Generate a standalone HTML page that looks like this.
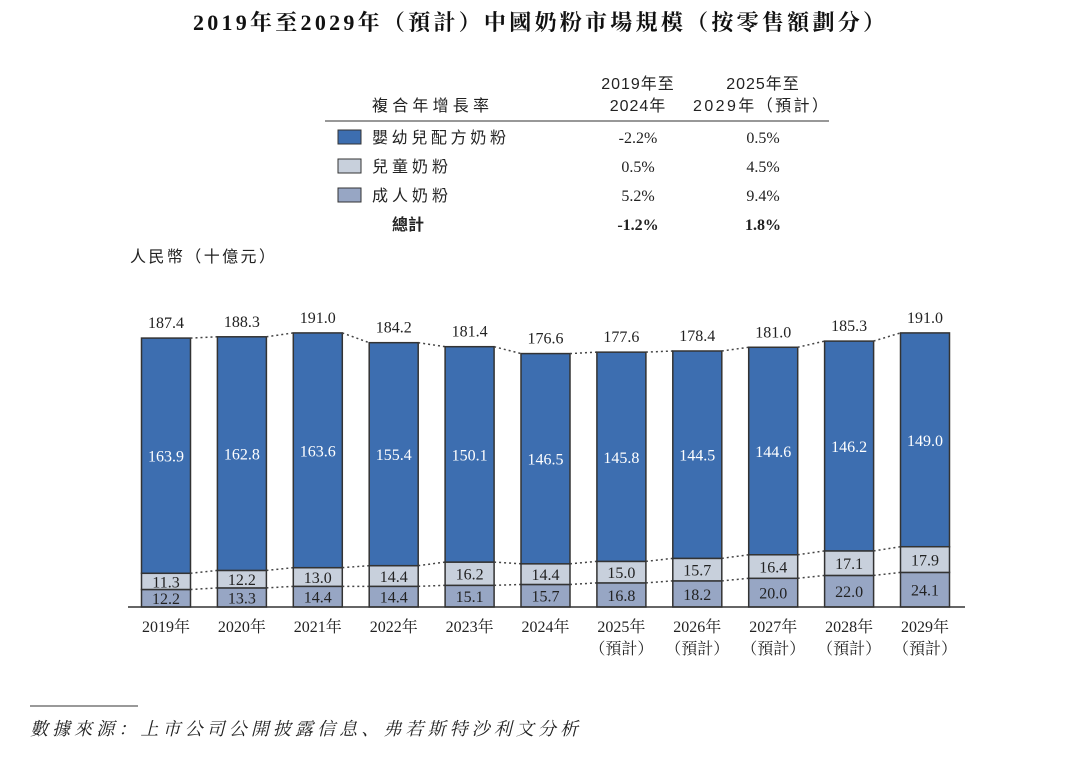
<!DOCTYPE html>
<html><head><meta charset="utf-8"><style>
body{margin:0;background:#fff;width:1080px;height:762px;overflow:hidden}
svg{font-family:"Liberation Serif","Noto Serif CJK SC",serif}
.s{font-family:"Liberation Sans","Noto Sans CJK TC",sans-serif}
</style></head><body>
<svg id="c" width="1080" height="762">
<text x="193" y="30" textLength="692" lengthAdjust="spacing" font-size="22" font-weight="bold" fill="#111">2019年至2029年（預計）中國奶粉市場規模（按零售額劃分）</text>
<g fill="#222">
<text class="s" x="372" y="111" font-size="16" textLength="117" lengthAdjust="spacing">複合年增長率</text>
<text class="s" x="638" y="89" font-size="16" text-anchor="middle" letter-spacing="1">2019年至</text>
<text class="s" x="638" y="111" font-size="16" text-anchor="middle" letter-spacing="1">2024年</text>
<text class="s" x="763" y="89" font-size="16" text-anchor="middle" letter-spacing="1">2025年至</text>
<text class="s" x="693" y="111" font-size="16" textLength="135" lengthAdjust="spacing">2029年（預計）</text>
<line x1="325" y1="121" x2="829" y2="121" stroke="#777" stroke-width="1.5"/>
<rect x="338" y="130" width="23" height="14" fill="#3d6eb0" stroke="#333"/>
<text class="s" x="372" y="143" font-size="16" textLength="134" lengthAdjust="spacing">嬰幼兒配方奶粉</text>
<text x="638" y="143" font-size="16" text-anchor="middle">-2.2%</text><text x="763" y="143" font-size="16" text-anchor="middle">0.5%</text>
<rect x="338" y="159" width="23" height="14" fill="#c8d0dc" stroke="#333"/>
<text class="s" x="372" y="172" font-size="16" textLength="76" lengthAdjust="spacing">兒童奶粉</text>
<text x="638" y="172" font-size="16" text-anchor="middle">0.5%</text><text x="763" y="172" font-size="16" text-anchor="middle">4.5%</text>
<rect x="338" y="188" width="23" height="14" fill="#97a6c4" stroke="#333"/>
<text class="s" x="372" y="201" font-size="16" textLength="76" lengthAdjust="spacing">成人奶粉</text>
<text x="638" y="201" font-size="16" text-anchor="middle">5.2%</text><text x="763" y="201" font-size="16" text-anchor="middle">9.4%</text>
<text class="s" x="392" y="230" font-size="16" font-weight="bold">總計</text>
<text x="638" y="230" font-size="16" font-weight="bold" text-anchor="middle">-1.2%</text><text x="763" y="230" font-size="16" font-weight="bold" text-anchor="middle">1.8%</text>
</g>
<text class="s" x="130" y="262" font-size="16" textLength="145" lengthAdjust="spacing" fill="#222">人民幣（十億元）</text>
<g id="bars"></g>
<line x1="128" y1="607" x2="965" y2="607" stroke="#333" stroke-width="1.5"/>
<line x1="30" y1="706" x2="138" y2="706" stroke="#333"/>
<text x="30" y="735" font-size="18" font-style="italic" textLength="548" lengthAdjust="spacing" fill="#222">數據來源：上市公司公開披露信息、弗若斯特沙利文分析</text>
</svg>
<script>
const years=["2019年","2020年","2021年","2022年","2023年","2024年","2025年","2026年","2027年","2028年","2029年"];
const forecast=[false,false,false,false,false,false,true,true,true,true,true];
const infant=[163.9,162.8,163.6,155.4,150.1,146.5,145.8,144.5,144.6,146.2,149.0];
const child=[11.3,12.2,13.0,14.4,16.2,14.4,15.0,15.7,16.4,17.1,17.9];
const adult=[12.2,13.3,14.4,14.4,15.1,15.7,16.8,18.2,20.0,22.0,24.1];
const totals=[187.4,188.3,191.0,184.2,181.4,176.6,177.6,178.4,181.0,185.3,191.0];
const NS="http://www.w3.org/2000/svg",g=document.getElementById('bars');
const base=607,k=1.435,x0=166,step=75.9,bw=49;
const X=i=>x0+i*step,Y=v=>base-v*k;
function el(t,a){const e=document.createElementNS(NS,t);for(const n in a)e.setAttribute(n,a[n]);g.appendChild(e);return e;}
function txt(x,y,s,fill,size){const e=el('text',{x:x,y:y,'text-anchor':'middle','font-size':size||16,fill:fill});e.textContent=s;return e;}
years.forEach((yr,i)=>{
 const cx=X(i),l=cx-bw/2;
 const a=adult[i],c=child[i],f=infant[i];
 const r1=el('rect',{x:l,y:Y(a),width:bw,height:a*k,fill:'#97a6c4',stroke:'#333','stroke-width':1.5});
 
 
 const r2=el('rect',{x:l,y:Y(a+c),width:bw,height:c*k,fill:'#c8d0dc',stroke:'#333','stroke-width':1.5});
 
 
 const r3=el('rect',{x:l,y:Y(a+c+f),width:bw,height:f*k,fill:'#3d6eb0',stroke:'#333','stroke-width':1.5});
 
 
 txt(cx,Y(a/2)+6,adult[i].toFixed(1),'#222');
 txt(cx,Y(a+c/2)+6,child[i].toFixed(1),'#222');
 txt(cx,Y(a+c+f/2)+6,infant[i].toFixed(1),'#fff');
 const t=txt(cx,Y(totals[i])-10,totals[i].toFixed(1),'#222');
 
 
 const xl=txt(cx,632,yr,'#222');
 
 
 if(forecast[i]){txt(cx,654,'（預計）','#222');}
 if(i<years.length-1){
  [[a,adult[i+1]],[a+c,adult[i+1]+child[i+1]],[a+c+f,adult[i+1]+child[i+1]+infant[i+1]]].forEach(p=>{
   const ln=el('line',{x1:cx+bw/2,y1:Y(p[0]),x2:X(i+1)-bw/2,y2:Y(p[1]),stroke:'#444','stroke-width':1.5,'stroke-dasharray':'2,3'});
   
   
  });
 }
});
</script>
</body></html>
